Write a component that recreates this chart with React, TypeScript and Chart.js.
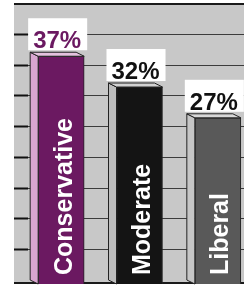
import React, { useEffect, useRef } from "react";
import { Chart, registerables } from "chart.js";

Chart.register(...registerables);

// ---- data ----
const categories = ["Conservative", "Moderate", "Liberal"];
const shares = [37, 32, 27];
const valueLabels = ["37%", "32%", "27%"];
const gridValues = [5, 10, 15, 20, 25, 30, 35, 40];
const axisMax = 45;

// ---- styles ----
const FRONT = ["#6b1961", "#141414", "#595959"];
const SIDE = ["#d8a6d0", "#bdbdbd", "#c6c6c6"];
const TOPF = ["#e4c2de", "#d2d2d2", "#d8d8d8"];
const LABEL_COLOR = ["#6b1961", "#111111", "#111111"];
const WALL = "#c8c8c8";
const DX = 8;
const DY = 4;

const threeD = {
  id: "threeD",
  beforeDatasetsDraw(chart: any) {
    const { ctx, chartArea, scales } = chart;
    const y = scales.y;
    const left = chartArea.left - DX;
    const right = chart.width;
    const wallTop = y.getPixelForValue(axisMax) - DY;
    const floor = chartArea.bottom - 1;
    ctx.save();
    ctx.fillStyle = WALL;
    ctx.fillRect(left, wallTop, right - left, floor - wallTop);
    // grid lines on back wall
    gridValues.forEach((v) => {
      const py = Math.round(y.getPixelForValue(v) - DY) + 0.5;
      ctx.strokeStyle = "#3c3c3c";
      ctx.lineWidth = 1;
      ctx.beginPath();
      ctx.moveTo(left, py);
      ctx.lineTo(right, py);
      ctx.stroke();
      ctx.strokeStyle = "#111";
      ctx.lineWidth = 2;
      ctx.beginPath();
      ctx.moveTo(left, py);
      ctx.lineTo(left + 14, py);
      ctx.stroke();
    });
    // top border
    ctx.strokeStyle = "#1a1a1a";
    ctx.lineWidth = 2;
    ctx.beginPath();
    ctx.moveTo(left, Math.round(wallTop) + 1);
    ctx.lineTo(right, Math.round(wallTop) + 1);
    ctx.stroke();
    // floor line
    ctx.beginPath();
    ctx.moveTo(left, floor);
    ctx.lineTo(right, floor);
    ctx.stroke();
    ctx.restore();
  },
  afterDatasetsDraw(chart: any) {
    const { ctx } = chart;
    const meta = chart.getDatasetMeta(0);
    ctx.save();
    meta.data.forEach((bar: any, i: number) => {
      const { x, y, base, width } = bar.getProps(["x", "y", "base", "width"], true);
      const fl = x - width / 2;
      const fr = x + width / 2;
      // side face
      ctx.fillStyle = SIDE[i];
      ctx.strokeStyle = "#222";
      ctx.lineWidth = 1;
      ctx.beginPath();
      ctx.moveTo(fl, y);
      ctx.lineTo(fl - DX, y - DY);
      ctx.lineTo(fl - DX, base - DY);
      ctx.lineTo(fl, base);
      ctx.closePath();
      ctx.fill();
      ctx.stroke();
      // top face
      ctx.fillStyle = TOPF[i];
      ctx.beginPath();
      ctx.moveTo(fl, y);
      ctx.lineTo(fr, y);
      ctx.lineTo(fr - DX, y - DY);
      ctx.lineTo(fl - DX, y - DY);
      ctx.closePath();
      ctx.fill();
      ctx.stroke();
    });
    ctx.restore();
  },
  afterDraw(chart: any) {
    const { ctx } = chart;
    const meta = chart.getDatasetMeta(0);
    ctx.save();
    meta.data.forEach((bar: any, i: number) => {
      const { x, y, base } = bar.getProps(["x", "y", "base"], true);
      // value label with white box
      ctx.font = 'bold 24px "Liberation Sans", Arial, sans-serif';
      const tw = ctx.measureText(valueLabels[i]).width;
      const cx = x - DX / 2;
      const bl = y - 8;
      ctx.fillStyle = "#ffffff";
      ctx.fillRect(cx - tw / 2 - 5, bl - 30, tw + 11, 32);
      ctx.fillStyle = LABEL_COLOR[i];
      ctx.textAlign = "center";
      ctx.textBaseline = "alphabetic";
      ctx.fillText(valueLabels[i], cx, bl);
      // rotated category label
      ctx.save();
      ctx.translate(x + 10.5, base - 9);
      ctx.rotate(-Math.PI / 2);
      ctx.font = 'bold 25px "Liberation Sans", Arial, sans-serif';
      ctx.fillStyle = "#ffffff";
      ctx.textAlign = "left";
      ctx.textBaseline = "alphabetic";
      ctx.fillText(categories[i], 0, 0);
      ctx.restore();
    });
    ctx.restore();
  },
};

export default function App() {
  const ref = useRef<HTMLCanvasElement | null>(null);
  useEffect(() => {
    if (!ref.current) return;
    const chart = new Chart(ref.current, {
      type: "bar",
      data: {
        labels: categories,
        datasets: [
          {
            data: shares,
            backgroundColor: FRONT,
            borderColor: "#222",
            borderWidth: 1,
            barThickness: 46,
          },
        ],
      },
      options: {
        responsive: false,
        animation: false,
        devicePixelRatio: 1,
        layout: { padding: { left: 22, right: 3, top: 7, bottom: 3 } },
        plugins: {
          legend: { display: false },
          tooltip: { enabled: false },
          title: { display: false },
        },
        scales: {
          x: { display: false },
          y: { display: false, min: 0, max: axisMax },
        },
      },
      plugins: [threeD],
    });
    return () => chart.destroy();
  }, []);
  return (
    <div
      style={{
        position: "absolute",
        left: 0,
        top: 0,
        width: 244,
        height: 287,
        overflow: "hidden",
        background: "#fff",
      }}
    >
      <canvas ref={ref} width={260} height={287} style={{ width: 260, height: 287, display: "block" }} />
    </div>
  );
}
